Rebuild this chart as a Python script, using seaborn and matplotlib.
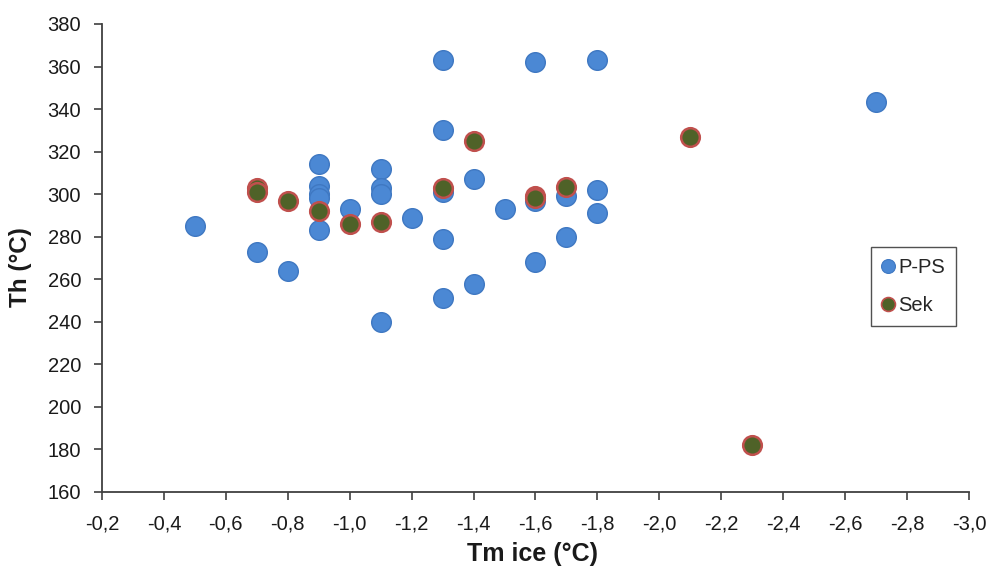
import matplotlib
matplotlib.use("Agg")
import matplotlib.pyplot as plt
from matplotlib.lines import Line2D
from matplotlib.ticker import FuncFormatter
import numpy as np
import pandas as pd
import seaborn as sns

# Fluid inclusion data: ice melting temperature vs. homogenisation temperature
pps_tm = [-0.5, -0.7, -0.8, -0.9, -0.9, -0.9, -0.9, -0.9, -1.0, -1.1, -1.1, -1.1,
          -1.1, -1.2, -1.3, -1.3, -1.3, -1.3, -1.3, -1.4, -1.4, -1.5, -1.6, -1.6,
          -1.6, -1.7, -1.7, -1.8, -1.8, -1.8, -2.7]
pps_th = [285, 273, 264, 314, 304, 300, 298, 283, 293, 312, 303, 300,
          240, 289, 363, 330, 301, 279, 251, 307, 258, 293, 362, 297,
          268, 299, 280, 363, 302, 291, 343.5]

sek_tm = [-0.7, -0.7, -0.8, -0.9, -1.0, -1.1, -1.3, -1.4, -1.6, -1.6, -1.7, -2.1, -2.3]
sek_th = [303, 301, 297, 292, 286, 287, 303, 325, 299, 298, 303.5, 327, 182]

x_ticks = [-0.2, -0.4, -0.6, -0.8, -1.0, -1.2, -1.4, -1.6, -1.8, -2.0, -2.2, -2.4, -2.6, -2.8, -3.0]
y_ticks = [160, 180, 200, 220, 240, 260, 280, 300, 320, 340, 360, 380]

pps = pd.DataFrame({"Tm": pps_tm, "Th": pps_th})
sek = pd.DataFrame({"Tm": sek_tm, "Th": sek_th})

sns.set_theme(style="white")
plt.rcParams["font.family"] = ["Liberation Sans", "DejaVu Sans"]

blue = "#4B88D4"
blue_edge = "#3F78C2"
green = "#4F6228"
red = "#C0504D"
axis_col = "#404040"

fig = plt.figure(figsize=(9.87, 5.71), dpi=100)
ax = fig.add_axes([0.1033, 0.1384, 0.8785, 0.8196])

sns.scatterplot(data=pps, x="Tm", y="Th", ax=ax, s=200, color=blue,
                edgecolor=blue_edge, linewidth=1.0, zorder=3, legend=False)
sns.scatterplot(data=sek, x="Tm", y="Th", ax=ax, s=180, color=green,
                edgecolor=red, linewidth=1.8, zorder=4, legend=False)

ax.set_xlim(-0.2, -3.0)
ax.set_ylim(160, 380)
ax.set_xticks(x_ticks)
ax.set_yticks(y_ticks)
ax.xaxis.set_major_formatter(FuncFormatter(lambda v, p: f"{v:.1f}".replace(".", ",")))
ax.yaxis.set_major_formatter(FuncFormatter(lambda v, p: f"{v:.0f}"))

for side in ["top", "right"]:
    ax.spines[side].set_visible(False)
for side in ["left", "bottom"]:
    ax.spines[side].set_color(axis_col)
    ax.spines[side].set_linewidth(1.3)

ax.tick_params(axis="both", direction="out", length=6, width=1.2, color=axis_col,
               labelsize=14.5, labelcolor="#1a1a1a", bottom=True, left=True)
ax.tick_params(axis="x", pad=10)
ax.tick_params(axis="y", pad=9)

ax.set_xlabel("Tm ice (°C)", fontsize=18, fontweight="bold", color="#1a1a1a")
ax.set_ylabel("Th (°C)", fontsize=17.5, fontweight="bold", color="#1a1a1a")
ax.xaxis.set_label_coords(0.4965, -0.107)
ax.yaxis.set_label_coords(-0.081, 0.481)

handles = [
    Line2D([], [], linestyle="none", marker="o", markersize=10,
           markerfacecolor=blue, markeredgecolor=blue_edge, markeredgewidth=0.8),
    Line2D([], [], linestyle="none", marker="o", markersize=10,
           markerfacecolor=green, markeredgecolor=red, markeredgewidth=1.2),
]
leg = ax.legend(handles, ["P-PS", "Sek"], loc="upper left",
                bbox_to_anchor=(0.887, 0.5235), borderaxespad=0,
                fontsize=14.5, frameon=True, fancybox=False, handlelength=0.6,
                handletextpad=0.2, labelspacing=0.95, borderpad=0.55)
leg.get_frame().set_edgecolor("#262626")
leg.get_frame().set_linewidth(1.0)

fig.savefig("out.png", dpi=100)
